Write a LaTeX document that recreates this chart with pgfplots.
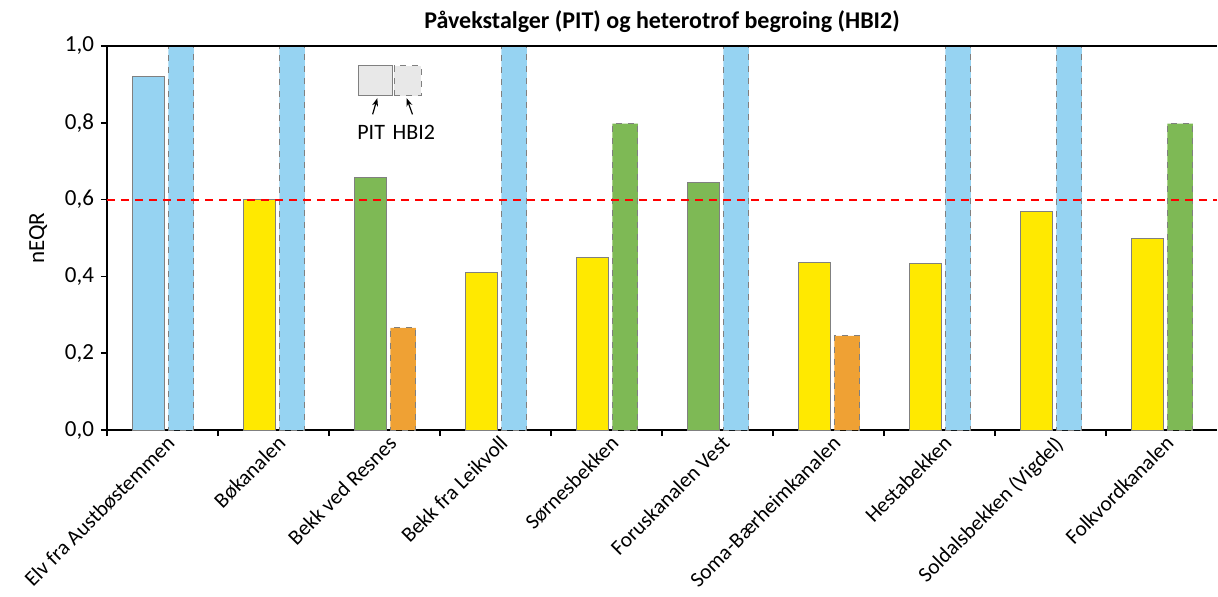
\documentclass[border=0pt]{standalone}
\usepackage{pgfplots}
\pgfplotsset{compat=1.18}
\usepackage{fontspec}
\setmainfont{Carlito}
\usetikzlibrary{arrows.meta}
\definecolor{cblue}{HTML}{96D3F2}
\definecolor{cyellow}{HTML}{FFE900}
\definecolor{cgreen}{HTML}{7EB955}
\definecolor{corange}{HTML}{EFA134}
\definecolor{cborder}{HTML}{808080}
\definecolor{cred}{RGB}{240,20,20}
\begin{document}
\begin{tikzpicture}
\begin{axis}[
  name=ax,
  scale only axis,
  width=555pt, height=192pt,
  xmin=-0.5, xmax=9.5, ymin=0, ymax=1,
  axis x line*=bottom, axis y line*=left,
  axis line style={line width=0.9pt, black},
  tick align=outside,
  major tick length=3pt,
  tick style={black, line width=0.8pt},
  xtick={-0.5,0.5,...,8.5},
  xticklabels={},
  extra x ticks={0,1,...,9},
  extra x tick labels={Elv fra Austbøstemmen,Bøkanalen,Bekk ved Resnes,Bekk fra Leikvoll,Sørnesbekken,Foruskanalen Vest,Soma-Bærheimkanalen,Hestabekken,Soldalsbekken (Vigdel),Folkvordkanalen},
  extra x tick style={major tick length=0pt, tick style={draw=none},
    tick label style={rotate=45, anchor=north east, xshift=3pt, yshift=1pt, font=\fontsize{10.7}{12}\selectfont}},
  ytick={0,0.2,...,1.0},
  yticklabel style={font=\fontsize{11.5}{13}\selectfont},
  /pgf/number format/.cd, fixed, fixed zerofill, precision=1, use comma, assume math mode=true,
  /pgfplots/.cd,
  ylabel={nEQR},
  ylabel style={at={(axis description cs:-0.062,0.5)}, anchor=center, font=\fontsize{11.5}{13}\selectfont},
  clip=false,
]
% PIT bars
\addplot[ybar, bar width=16.3pt, bar shift=-7pt, fill=cblue, draw=cborder, line width=0.5pt]
  coordinates {(0,0.92)};
\addplot[ybar, bar width=16.3pt, bar shift=-7pt, fill=cyellow, draw=cborder, line width=0.5pt]
  coordinates {(1,0.60) (3,0.41) (4,0.45) (6,0.435) (7,0.433) (8,0.57) (9,0.50)};
\addplot[ybar, bar width=16.3pt, bar shift=-7pt, fill=cgreen, draw=cborder, line width=0.5pt]
  coordinates {(2,0.658) (5,0.644)};
% HBI2 bars
\addplot[ybar, bar width=12.8pt, bar shift=9.3pt, fill=cblue, draw=cborder, dashed, line width=0.5pt]
  coordinates {(0,1.0) (1,1.0) (3,1.0) (5,1.0) (7,1.0) (8,1.0)};
\addplot[ybar, bar width=12.8pt, bar shift=9.3pt, fill=corange, draw=cborder, dashed, line width=0.5pt]
  coordinates {(2,0.266) (6,0.245)};
\addplot[ybar, bar width=12.8pt, bar shift=9.3pt, fill=cgreen, draw=cborder, dashed, line width=0.5pt]
  coordinates {(4,0.798) (9,0.798)};
% reference line
\addplot[red, line width=1pt, dash pattern=on 4pt off 3pt, forget plot, mark=none]
  coordinates {(-0.5,0.6) (9.5,0.6)};
% top axis line
\draw[line width=0.9pt, black] (rel axis cs:0,1) -- (rel axis cs:1,1);
% inset legend
\draw[fill=black!9, draw=cborder, line width=0.5pt] (axis cs:1.77,0.870) rectangle (axis cs:2.07,0.948);
\draw[fill=black!9, draw=cborder, dashed, line width=0.5pt] (axis cs:2.086,0.870) rectangle (axis cs:2.33,0.948);
\draw[-{Stealth[length=4pt,width=3pt]}, line width=0.6pt] (axis cs:1.893,0.822) -- (axis cs:1.935,0.864);
\draw[-{Stealth[length=4pt,width=3pt]}, line width=0.6pt] (axis cs:2.252,0.822) -- (axis cs:2.200,0.864);
\node[font=\fontsize{11}{13}\selectfont, anchor=center] at (axis cs:1.880,0.776) {PIT};
\node[font=\fontsize{11}{13}\selectfont, anchor=center] at (axis cs:2.265,0.776) {HBI2};
\end{axis}
\node[anchor=base, font=\bfseries\fontsize{12}{14}\selectfont] at ([yshift=9pt]ax.north) {Påvekstalger (PIT) og heterotrof begroing (HBI2)};
\pgfresetboundingbox
\path[use as bounding box] (ax.south west) ++(-53.5pt,-83pt) rectangle ++(609pt,298pt);
\end{tikzpicture}
\end{document}
